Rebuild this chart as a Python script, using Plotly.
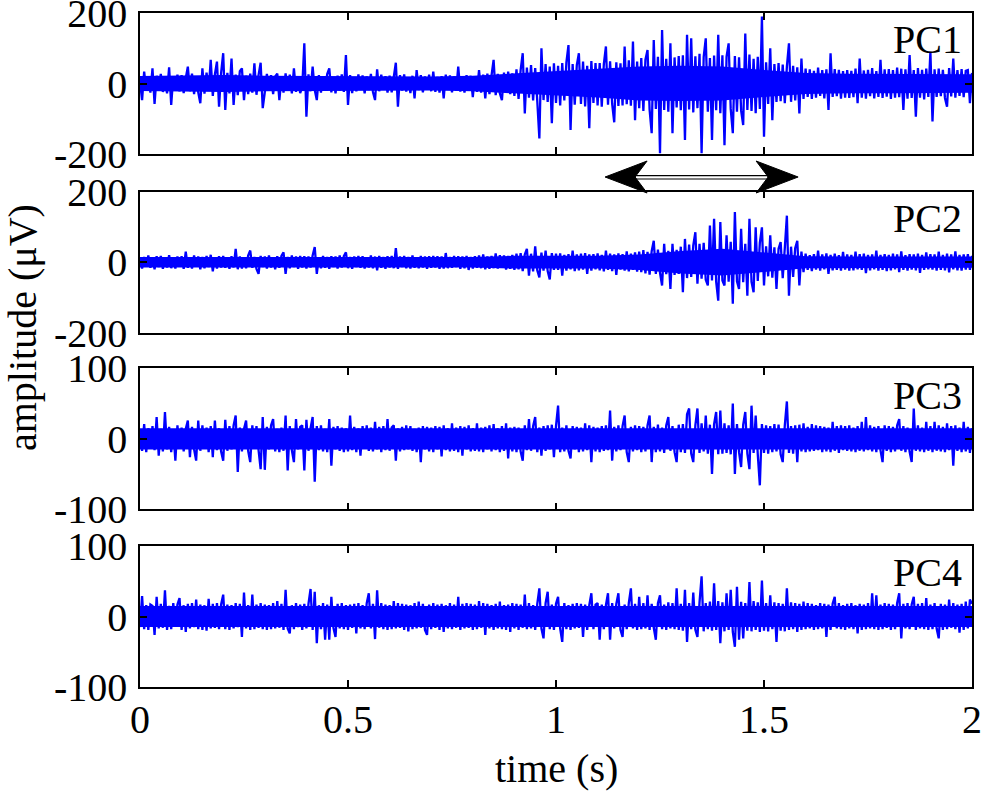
import numpy as np
import plotly.graph_objects as go

# ---------------- data (µV), sampled every 5 ms from 0 to 2 s ----------------
STEP_S = 0.005

pc1 = [
    5, -47, 34, -20, 18, -26, 43, -58, 22, -15, 27, -24, 12, -28, 46, -61, 20, -18, 25, -22,
    24, -27, 15, 48, -22, 28, -30, 19, -25, -56, 43, -29, 31, -20, 67, -35, 26, 62, -66, 30,
    86, -75, 30, -28, 71, -61, 25, -33, 35, 43, -47, 22, -30, 28, -26, 57, -32, 24, 59, -70,
    -25, 27, -18, 24, -30, 20, 28, -47, 16, -26, 29, -21, 25, -28, 43, -24, 19, -27, -10, 114,
    -94, 26, -22, 48, -18, -47, 24, -26, 21, -15, 27, 43, -25, 18, -28, 22, -20, 26, -24, 81,
    -61, 24, -27, 18, -22, 26, -16, 23, -28, 20, -19, 27, -24, -47, 40, -22, 25, -18, 21, -26,
    22, -25, 18, 59, -66, 24, -20, 26, -23, 17, -27, 22, -42, 38, -19, 24, -25, 20, -18, 25,
    -22, 34, -24, 19, -26, 21, -42, 25, -18, 23, -25, 20, -21, 48, -23, 18, -26, 24, -20, 22,
    -39, 20, -24, 38, -26, 25, -42, 28, -30, 22, 67, -33, 27, -28, -47, 31, -25, 34, -30, 29,
    -35, 40, -44, 38, 86, -85, 45, -40, 52, -48, 44, -50, -156, 100, -47, 55, -52, 48, -113, 57,
    -55, 50, -62, 58, -48, 60, 109, -132, 55, -60, 52, 86, -58, 62, -65, 50, -127, 64, -55, 58,
    -62, 58, -66, 55, 105, -60, 63, -58, -110, 60, -64, 57, -62, 105, -59, 66, -63, 119, -104, 62,
    -70, 72, -78, 68, 95, -74, -141, 123, -72, 76, -198, 152, -75, 70, -80, 114, -141, 74, -68, 78,
    -76, 80, -160, 138, -74, 128, -82, 77, -70, 84, -198, 75, 128, -80, 72, -160, 79, -76, 138, -84,
    80, -175, 76, 114, -72, -141, 78, -80, 74, -77, -118, 142, -75, 82, -78, 70, -84, 76, -72, 190,
    -151, 60, -58, 100, -104, 55, -52, 58, -50, 54, -56, 48, 114, -52, 50, -48, 46, -85, 71, -44,
    42, -38, 40, -44, 36, -40, 45, -35, 38, -42, 40, -75, 86, -38, 41, -36, 39, -43, 35, -40,
    38, -41, 36, -39, 42, -56, 71, -40, 37, -43, 39, -36, 44, -42, 35, -38, 67, -41, 40, -37,
    41, -44, 38, -40, 45, -39, 42, -75, 40, -43, 81, -41, 38, -94, 44, -40, 39, -45, 42, -38,
    90, -108, 40, -38, 42, -36, 39, -41, -66, 44, -37, 71, -40, 38, -35, 41, -39, 36, 38, -56,
    30,
]

pc2 = [
    10, -18, 15, -12, 19, -16, 13, -20, 17, -14, 18, -19, 12, -15, 20, -17, 14, -18, 16, -13,
    17, -19, 30, -16, 14, -18, 19, -13, 16, -20, 15, -17, 18, -14, 21, -26, 13, -18, 17, -15,
    18, -16, 14, -19, 17, -15, 38, -20, 16, -18, 13, -17, 19, 33, -16, 15, -19, -33, 18, -14,
    16, -18, 19, -15, 14, -20, 17, -16, 18, 28, -33, 15, -17, 19, -14, 16, -19, 18, -15, 17,
    -18, 16, -15, 19, 43, -33, 14, -17, 18, -16, 15, -19, 17, -14, 16, -18, 19, -15, 17, 28,
    -17, 15, -19, 16, -14, 18, -16, 17, -18, 14, -15, 19, -17, 16, -23, 18, -16, 15, -19, 17,
    -15, 18, -17, 40, -19, 16, -14, 18, -17, 15, -18, 19, -16, 14, -17, 18, -15, 16, -19, 17,
    -16, 18, -15, 17, -19, 16, -18, 26, -17, 15, -16, 18, -14, 17, -19, 16, -17, 18, -22, 15,
    -18, 17, -16, 19, -17, 22, -20, 16, -19, 18, -17, 25, -18, 20, -16, 19, -21, 18, -19, 21,
    -22, 24, -20, 26, -25, 22, 38, -38, 24, -26, 45, -23, -43, 27, -24, 33, -25, -49, 26, -22,
    24, -22, 25, -38, 21, -24, 23, -20, 33, -25, 22, -23, 24, -21, 26, -33, 22, -24, 23, -20,
    25, -23, 21, -26, 33, -22, 24, -25, 22, -36, 25, -21, 23, -24, 31, -26, 24, -22, 28, -27,
    30, -28, 34, -32, 29, -35, 31, 61, -33, 36, -30, -66, 52, -34, 32, -76, 52, -36, 35, -33,
    44, -85, 66, -45, 50, -42, 48, 85, -61, 52, -47, 55, -50, -66, 104, -52, 123, -55, -109, 114,
    -52, -66, 76, -55, 58, -118, 142, -54, -76, 95, -57, 52, -95, 123, -56, -85, 99, -53, 55, 99,
    -66, 45, -40, 76, -44, 42, -76, 38, 57, -45, 40, 132, -95, 44, -42, 40, 61, -66, 30, -28,
    24, -22, 20, -25, 23, -21, 33, -24, 22, -20, 25, -33, 21, -23, 24, -22, 20, -24, 29, -21,
    22, -24, 21, -23, 30, -20, 23, -22, 24, -31, 21, -23, 22, -20, 33, -24, 21, -22, 23, -25,
    21, -23, 24, -20, 22, -28, 31, -22, 20, -24, 23, -21, 22, -23, 24, -30, 21, -22, 28, -20,
    23, -21, 22, -24, 30, -22, 21, -23, 24, -29, 22, -20, 31, -23, 21, -24, 22, -21, 23, -22,
    18,
]

pc3 = [
    12, -17, 21, -19, 15, -13, 18, -16, 31, -24, 14, -18, 38, -15, 17, -19, 13, -31, 19, -14,
    16, -18, 14, 26, -26, 17, -15, -31, 26, -17, 19, -14, 16, -19, 18, -26, 26, -16, 15, -18,
    -31, 27, -17, 18, -15, 19, 33, -47, 16, -18, 14, 26, -17, -33, 19, -14, 18, -16, -43, 31,
    -44, 17, -15, 19, 28, -18, 14, -19, 16, -17, 33, -45, 18, -16, -33, 28, -15, 17, 19, -45,
    27, -17, 15, 31, -61, 18, -16, 19, -18, 14, -19, 28, -38, 17, -15, 18, -17, 16, -19, 15,
    -18, 33, -16, 17, -19, 15, -24, 18, -14, 19, -17, 16, -18, 24, -15, 17, -19, 18, -16, 28,
    -17, 16, 19, -31, 15, -18, 17, -16, 19, -15, 18, -17, 14, -19, 16, -33, 18, -15, 17, -18,
    16, -19, 18, -15, 17, -25, 19, -16, 15, -18, 22, -17, 16, -19, 18, -24, 17, -15, 19, -18,
    15, -17, 22, -18, 16, -19, 17, -15, 19, -18, 21, -16, 15, -19, 18, -17, 22, -28, 16, -18,
    17, -19, 16, -18, -31, 19, -16, 28, -17, 18, 31, -19, 16, -24, 18, -17, 19, -15, 20, -26,
    18, 47, -19, 16, -18, 19, -17, -28, 18, -15, 17, -19, 16, -18, 22, -16, 19, -33, 17, -18,
    16, -19, 18, -17, 19, -16, 40, -31, 17, -18, 19, -16, 18, 33, -19, -33, 17, -18, 19, -16,
    18, -19, 17, -18, 19, 33, -33, 17, -19, 20, -18, 16, -20, 19, 31, -17, 18, -19, -33, 20,
    -19, 21, -20, 35, 43, -21, -33, 19, 43, -20, 22, -18, 33, -21, 20, -50, 21, 38, -22, 40,
    -21, 22, -20, 19, -22, 50, -50, 21, -19, -40, 20, 38, -21, -43, 47, -20, 33, -22, -66, 21,
    -20, 19, -21, 18, -19, 21, -18, 20, -22, -33, 19, 53, -20, 18, -21, 19, -33, 20, -18, 22,
    -19, 17, -18, 21, -17, 19, -16, 18, -19, 17, -18, 16, -19, 24, -17, 18, -20, 19, -16, 18,
    -17, 19, -18, 16, -19, 18, -17, 24, -18, 31, -16, 19, -18, 17, -19, 18, -16, -33, 19, -17,
    18, -19, 17, -18, 19, 28, -17, 18, -19, 16, -18, -33, 43, -17, 19, -18, 16, -19, 24, -17,
    18, -19, 24, -17, 19, -18, 17, -19, 22, -16, 18, -38, 19, -17, 16, -19, 24, -18, 17, -20,
    15,
]

pc4 = [
    -15, 29, -18, 16, -19, 17, 15, -26, 28, -17, 18, -16, 37, -19, 15, -18, 19, -14, 17, 26,
    -19, 16, -22, 18, -17, 19, -15, 24, -18, 17, -19, 16, -20, 25, -17, 18, -16, 19, -18, 17,
    31, -18, 17, -19, 16, -17, 19, -15, 18, -29, 34, -17, 16, -19, 31, -18, 17, -16, 19, -18,
    17, -19, 16, -18, 19, -17, 22, -16, 18, -19, 38, -17, -24, 16, -18, 19, -15, 17, -19, 18,
    -17, 18, 39, -19, 35, -38, 16, -18, 19, -33, 17, -33, 28, -16, -29, 18, -17, 19, -18, 16,
    -19, 17, -16, 18, -24, 19, -17, 16, -18, 19, 33, -17, 18, -32, 37, -16, 19, -18, 17, -19,
    16, -18, 22, -17, 19, -16, 18, -19, 17, -21, 16, -18, 19, -17, 21, -16, 18, -19, -26, 17,
    -18, 19, -16, 17, -19, 18, -22, 16, -17, 19, -18, 17, -16, 28, -19, 18, -17, 19, -16, 18,
    -19, 17, -18, 22, -16, 19, -26, 18, -17, 16, -19, 18, -17, 21, -18, 16, -19, 17, -22, 19,
    -17, 18, -19, 17, -16, 31, -18, 19, -17, 16, -19, 18, 40, -17, -31, 19, 35, -18, 17, -19,
    18, 28, -17, -36, 19, -18, 16, -19, 18, -17, 19, -16, 18, -29, 17, -19, 16, 33, -18, 17,
    19, -33, 17, -18, 16, 33, -33, 19, -17, 18, 33, -19, -29, 17, -18, 19, 40, -17, 18, -19,
    28, -18, 19, -17, 30, -19, 18, -16, -33, 19, 30, -18, 17, -19, 20, -17, 19, -18, 40, -19,
    18, -20, 38, -36, 19, -18, 34, -19, -29, 20, 57, -21, 19, -18, 21, -20, 47, -19, 22, -38,
    20, -21, 33, -19, 38, -22, -43, 42, -33, 21, -31, 19, -20, 49, -21, 22, -19, 20, -22, 51,
    -20, 19, -21, 30, -18, 20, -36, 19, -20, 18, -21, 40, -19, 20, -18, 19, -22, 18, -19, 21,
    -18, 19, -17, 18, -19, 16, -18, 19, -17, 18, -29, 17, -19, 18, 28, -17, 19, -18, 16, -19,
    18, -17, 19, -18, 16, -24, 18, -19, 17, -18, 19, -17, 33, -18, 30, -19, 17, -18, 19, -16,
    18, -19, 17, -18, 19, 33, -31, 18, -17, 19, -18, 17, 28, -19, 18, -17, 19, -18, 26, -19,
    17, -18, 19, -17, -31, 18, -19, 17, -18, 24, -16, 19, -18, 17, -23, 18, -19, 21, -17, 24,
    18,
]

# half-width (µV) of the solid, densely-filled core of each trace, every 0.1 s (0..2 s)
CORE_STEP_S = 0.1
pc1_core = [21, 22, 24, 22, 21, 21, 20, 20, 22, 28, 34, 40, 48, 50, 48, 38, 30, 28, 28, 28, 26]
pc2_core = [15, 15, 15, 15, 15, 15, 15, 15, 15, 18, 18, 18, 22, 32, 38, 28, 17, 16, 16, 16, 16]
pc3_core = [15, 15, 15, 15, 15, 15, 15, 15, 15, 15, 15, 15, 15, 16, 16, 15, 15, 15, 15, 15, 15]
pc4_core = [15, 15, 15, 15, 15, 15, 15, 15, 15, 15, 15, 15, 15, 16, 16, 15, 15, 15, 15, 15, 15]

labels = ["PC1", "PC2", "PC3", "PC4"]
y_limits = [200, 200, 100, 100]
x_ticks = [0, 0.5, 1, 1.5, 2]
x_ticktext = ["0", "0.5", "1", "1.5", "2"]
arrow_span_s = [1.118, 1.582]   # marked time interval (s)

series = [pc1, pc2, pc3, pc4]
cores = [pc1_core, pc2_core, pc3_core, pc4_core]
time_s = np.round(np.arange(len(pc1)) * STEP_S, 4)
core_t = np.round(np.arange(len(pc1_core)) * CORE_STEP_S, 4)

# ---------------- layout geometry ----------------
W, H = 981, 795
ML, MR, MT, MB = 140, 9, 13, 108
PLOT_H = H - MT - MB
PANEL_H = 141
panel_tops = [13, 191.7, 368.3, 546]


def paper_y(py):
    return (H - MB - py) / PLOT_H


FONT = "Liberation Serif, Times New Roman, serif"
FS = 40
BLUE = "#0000FF"

fig = go.Figure()
layout = dict(
    width=W, height=H, autosize=False,
    margin=dict(l=ML, r=MR, t=MT, b=MB, pad=0, autoexpand=False),
    paper_bgcolor="white", plot_bgcolor="white",
    showlegend=False,
    font=dict(family=FONT, size=FS, color="black"),
)

annotations = []
for k in range(4):
    n = k + 1
    sfx = "" if n == 1 else str(n)
    core = np.array(cores[k], dtype=float)
    # solid core band of the dense signal
    fig.add_trace(go.Scatter(
        x=np.concatenate([core_t, core_t[::-1]]),
        y=np.concatenate([core, -core[::-1]]),
        mode="lines", fill="toself", fillcolor=BLUE,
        line=dict(color=BLUE, width=0),
        xaxis="x" + sfx, yaxis="y" + sfx, hoverinfo="skip",
    ))
    fig.add_trace(go.Scatter(
        x=time_s, y=series[k], mode="lines",
        line=dict(color=BLUE, width=2.3, simplify=False),
        xaxis="x" + sfx, yaxis="y" + sfx, hoverinfo="skip",
    ))
    top = panel_tops[k]
    lim = y_limits[k]
    layout["xaxis" + sfx] = dict(
        domain=[0, 1], range=[0, 2], anchor="y" + sfx, automargin=False,
        tickvals=x_ticks, ticktext=x_ticktext, showticklabels=(n == 4),
        ticks="inside", ticklen=7, tickwidth=1.5, tickcolor="black",
        showline=True, linecolor="black", linewidth=1.5, mirror="ticks",
        showgrid=False, zeroline=False, ticklabelstandoff=-4,
        ticklabeloverflow="allow",
        tickfont=dict(family=FONT, size=FS, color="black"),
    )
    layout["yaxis" + sfx] = dict(
        domain=[paper_y(top + PANEL_H), paper_y(top)], range=[-lim, lim],
        anchor="x" + sfx, automargin=False,
        tickvals=[-lim, 0, lim], ticktext=[str(-lim), "0", str(lim)],
        ticks="inside", ticklen=7, tickwidth=1.5, tickcolor="black",
        showline=True, linecolor="black", linewidth=1.5, mirror="ticks",
        showgrid=False, zeroline=False, ticklabelstandoff=3,
        ticklabeloverflow="allow",
        tickfont=dict(family=FONT, size=FS, color="black"),
    )
    annotations.append(dict(
        text=labels[k], xref="x" + sfx + " domain", yref="y" + sfx + " domain",
        x=0.99, y=0.81, xanchor="right", yanchor="middle", showarrow=False,
        font=dict(family=FONT, size=FS, color="black"),
    ))

annotations.append(dict(
    text="amplitude (μV)", xref="paper", yref="paper",
    x=(22 - ML) / (W - ML - MR), y=paper_y(328), textangle=-90,
    xanchor="center", yanchor="middle", showarrow=False,
    font=dict(family=FONT, size=FS, color="black"),
))
annotations.append(dict(
    text="time (s)", xref="paper", yref="paper",
    x=0.5, y=paper_y(768), xanchor="center", yanchor="middle", showarrow=False,
    font=dict(family=FONT, size=FS, color="black"),
))
layout["annotations"] = annotations

# double-headed arrow marking the interval (between PC1 and PC2)
t0, t1 = arrow_span_s
yc, yt, yb = paper_y(177), paper_y(161), paper_y(193)
ys1, ys2 = paper_y(175.6), paper_y(179)
head_len = 0.101
notch = 0.072
shapes = [
    dict(type="rect", xref="x", yref="paper", x0=t0 + notch, x1=t1 - notch,
         y0=ys2, y1=ys1, line=dict(color="black", width=1.2), fillcolor="white"),
    dict(type="path", xref="x", yref="paper",
         path=f"M {t0},{yc} L {t0 + head_len},{yt} L {t0 + notch},{yc} L {t0 + head_len},{yb} Z",
         fillcolor="black", line=dict(color="black", width=1)),
    dict(type="path", xref="x", yref="paper",
         path=f"M {t1},{yc} L {t1 - head_len},{yt} L {t1 - notch},{yc} L {t1 - head_len},{yb} Z",
         fillcolor="black", line=dict(color="black", width=1)),
]
layout["shapes"] = shapes

fig.update_layout(**layout)
fig.write_html(
    "out.html",
    config={"responsive": False, "displayModeBar": False},
    post_script="document.body.style.margin='0px';",
)
